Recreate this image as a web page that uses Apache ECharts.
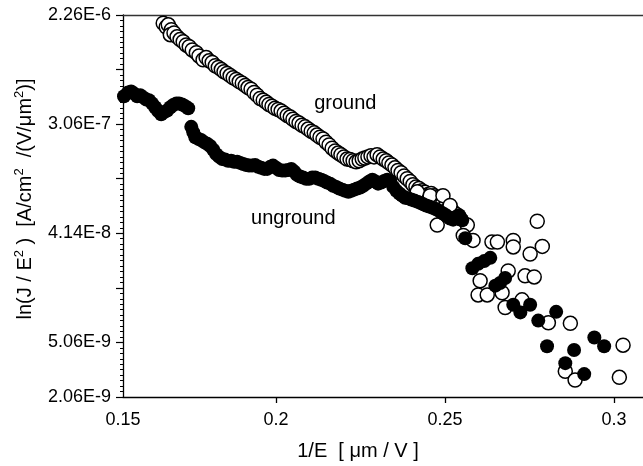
<!DOCTYPE html>
<html>
<head>
<meta charset="utf-8">
<script src="https://cdn.jsdelivr.net/npm/echarts@6/dist/echarts.min.js"></script>
<style>
html,body{margin:0;padding:0;background:#fff;}
#c{width:643px;height:466px;}
</style>
</head>
<body>
<div id="c"></div>
<script>
// ---- data (x = 1/E [um/V], y = ln(J/E^2)) ----
const groundChain = [[0.1666,-13.15],[0.1675,-13.22],[0.1681,-13.18],[0.1690,-13.27],[0.1687,-13.36],[0.1698,-13.33],[0.1707,-13.40],[0.1716,-13.45],[0.1725,-13.49],[0.1734,-13.55],[0.1743,-13.58],[0.1752,-13.64],[0.1764,-13.69],[0.1772,-13.75],[0.1784,-13.82],[0.1793,-13.78],[0.1802,-13.84],[0.1811,-13.87],[0.1820,-13.93],[0.1829,-13.96],[0.1838,-14.00],[0.1846,-14.04],[0.1855,-14.07],[0.1864,-14.11],[0.1873,-14.15],[0.1882,-14.18],[0.1891,-14.22],[0.1900,-14.25],[0.1909,-14.29],[0.1917,-14.33],[0.1926,-14.36],[0.1935,-14.42],[0.1944,-14.47],[0.1953,-14.53],[0.1962,-14.56],[0.1971,-14.60],[0.1979,-14.64],[0.1988,-14.67],[0.1997,-14.71],[0.2006,-14.73],[0.2015,-14.76],[0.2024,-14.80],[0.2033,-14.84],[0.2042,-14.87],[0.2050,-14.91],[0.2059,-14.95],[0.2068,-14.98],[0.2077,-15.02],[0.2086,-15.05],[0.2095,-15.09],[0.2104,-15.13],[0.2113,-15.16],[0.2121,-15.20],[0.2130,-15.24],[0.2139,-15.27],[0.2148,-15.33],[0.2157,-15.38],[0.2166,-15.44],[0.2175,-15.49],[0.2184,-15.53],[0.2192,-15.56],[0.2201,-15.60],[0.2210,-15.64],[0.2219,-15.65],[0.2228,-15.67],[0.2237,-15.69],[0.2246,-15.67],[0.2255,-15.64],[0.2263,-15.62],[0.2272,-15.60],[0.2281,-15.58],[0.2290,-15.60],[0.2299,-15.56],[0.2308,-15.60],[0.2317,-15.64],[0.2326,-15.67],[0.2334,-15.71],[0.2343,-15.75],[0.2352,-15.80],[0.2361,-15.85],[0.2370,-15.89],[0.2379,-15.95],[0.2388,-16.00],[0.2397,-16.05],[0.2405,-16.11],[0.2414,-16.15],[0.2423,-16.18],[0.2432,-16.22],[0.2441,-16.25],[0.2450,-16.29],[0.2459,-16.27],[0.2468,-16.31],[0.2476,-16.35],[0.2485,-16.38],[0.2494,-16.42],[0.2503,-16.47],[0.2512,-16.53],[0.2521,-16.58],[0.2533,-16.65],[0.2545,-16.73]];
const groundScatter = [[0.2418,-16.24],[0.2456,-16.31],[0.2494,-16.31],[0.2515,-16.49],[0.2477,-16.85],[0.2566,-16.85],[0.2554,-17.04],[0.2583,-17.13],[0.2639,-17.16],[0.2655,-17.16],[0.2702,-17.13],[0.2702,-17.25],[0.2752,-17.38],[0.2788,-17.24],[0.2773,-16.78],[0.2687,-17.69],[0.2604,-17.87],[0.2598,-18.13],[0.2625,-18.13],[0.2669,-18.09],[0.2678,-18.36],[0.2728,-18.22],[0.2737,-17.78],[0.2764,-17.80],[0.2806,-18.64],[0.2871,-18.65],[0.2856,-19.53],[0.2885,-19.69],[0.3027,-19.05],[0.3016,-19.64]];
const ungroundChain = [[0.1550,-14.49],[0.1562,-14.42],[0.1571,-14.40],[0.1580,-14.44],[0.1589,-14.49],[0.1598,-14.47],[0.1607,-14.51],[0.1616,-14.55],[0.1624,-14.56],[0.1633,-14.62],[0.1642,-14.69],[0.1651,-14.76],[0.1660,-14.82],[0.1669,-14.78],[0.1678,-14.75],[0.1687,-14.69],[0.1696,-14.65],[0.1705,-14.62],[0.1713,-14.62],[0.1722,-14.64],[0.1731,-14.67],[0.1740,-14.71],[0.1749,-15.05],[0.1755,-15.15],[0.1761,-15.24],[0.1770,-15.27],[0.1778,-15.29],[0.1787,-15.33],[0.1796,-15.36],[0.1805,-15.40],[0.1814,-15.47],[0.1823,-15.55],[0.1832,-15.60],[0.1841,-15.64],[0.1849,-15.65],[0.1858,-15.67],[0.1867,-15.67],[0.1876,-15.69],[0.1885,-15.69],[0.1894,-15.71],[0.1903,-15.73],[0.1912,-15.75],[0.1920,-15.76],[0.1929,-15.76],[0.1938,-15.75],[0.1947,-15.78],[0.1956,-15.80],[0.1965,-15.82],[0.1974,-15.82],[0.1983,-15.78],[0.1991,-15.76],[0.2000,-15.80],[0.2009,-15.84],[0.2018,-15.85],[0.2027,-15.85],[0.2036,-15.84],[0.2045,-15.82],[0.2054,-15.87],[0.2062,-15.93],[0.2071,-15.96],[0.2080,-15.98],[0.2089,-16.00],[0.2098,-16.00],[0.2107,-15.98],[0.2116,-15.98],[0.2125,-16.00],[0.2134,-16.02],[0.2142,-16.04],[0.2151,-16.07],[0.2160,-16.09],[0.2169,-16.13],[0.2178,-16.15],[0.2187,-16.18],[0.2196,-16.20],[0.2205,-16.22],[0.2214,-16.24],[0.2222,-16.22],[0.2231,-16.20],[0.2240,-16.18],[0.2249,-16.16],[0.2258,-16.13],[0.2267,-16.09],[0.2276,-16.05],[0.2285,-16.02],[0.2294,-16.05],[0.2302,-16.09],[0.2311,-16.07],[0.2320,-16.04],[0.2329,-16.02],[0.2338,-16.05],[0.2347,-16.15],[0.2356,-16.22],[0.2365,-16.27],[0.2373,-16.31],[0.2382,-16.35],[0.2391,-16.36],[0.2400,-16.38],[0.2409,-16.40],[0.2418,-16.42],[0.2427,-16.44],[0.2436,-16.47],[0.2444,-16.49],[0.2453,-16.51],[0.2462,-16.53],[0.2471,-16.55],[0.2480,-16.58],[0.2489,-16.62],[0.2498,-16.65],[0.2507,-16.69],[0.2515,-16.73],[0.2524,-16.75],[0.2533,-16.71],[0.2542,-16.67],[0.2551,-16.76]];
const ungroundScatter = [[0.2560,-17.09],[0.2581,-17.64],[0.2598,-17.56],[0.2616,-17.51],[0.2634,-17.45],[0.2649,-17.96],[0.2663,-17.91],[0.2678,-17.82],[0.2702,-18.31],[0.2723,-18.45],[0.2752,-18.31],[0.2776,-18.60],[0.2829,-18.44],[0.2802,-19.07],[0.2882,-19.14],[0.2856,-19.38],[0.2912,-19.58],[0.2942,-18.91],[0.2971,-19.07]];

const xLabelValues = [0.1547, 0.2, 0.25, 0.3];
const xLabelTexts = ['0.15', '0.2', '0.25', '0.3'];
const xTickValues = [0.2, 0.25, 0.3];
const yLabelValues = [-13, -15, -17, -19, -20];
const yLabelTexts = ['2.26E-6', '3.06E-7', '4.14E-8', '5.06E-9', '2.06E-9'];
const annotations = [
  {text: 'ground', x: 0.2205, y: -14.62},
  {text: 'unground', x: 0.2051, y: -16.73}
];

const FONT = '"Liberation Sans", Arial, sans-serif';
const chart = echarts.init(document.getElementById('c'), null, {renderer: 'canvas'});
chart.setOption({
  animation: false,
  backgroundColor: '#fff',
  grid: {left: 123, right: 0, top: 15, bottom: 64},
  xAxis: [{
    type: 'value', min: 0.1547, max: 0.3086,
    axisLine: {show: true, onZero: false, lineStyle: {color: '#000', width: 1.3}},
    axisTick: {show: true, customValues: xTickValues, length: 6, lineStyle: {color: '#000', width: 1.3}},
    axisLabel: {
      customValues: xLabelValues, margin: 14, color: '#000', fontSize: 18, fontFamily: FONT,
      formatter: v => { const i = xLabelValues.findIndex(a => Math.abs(a - v) < 1e-6); return i >= 0 ? xLabelTexts[i] : ''; }
    },
    splitLine: {show: false},
    name: '1/E  [ μm / V ]', nameLocation: 'middle', nameGap: 44,
    nameTextStyle: {color: '#000', fontSize: 20, fontFamily: FONT, padding: [0, 50, 0, 0]}
  }, {
    type: 'value', position: 'top', min: 0.1547, max: 0.3086,
    axisLine: {show: true, onZero: false, lineStyle: {color: '#333', width: 1.3}},
    axisTick: {show: false}, axisLabel: {show: false}, splitLine: {show: false}
  }],
  yAxis: {
    type: 'value', min: -20, max: -13, interval: 1,
    axisLine: {show: true, onZero: false, lineStyle: {color: '#000', width: 1.3}},
    axisTick: {show: true, length: 7, lineStyle: {color: '#000', width: 1.2}},
    minorTick: {show: true, splitNumber: 10, length: 3, lineStyle: {color: '#000', width: 1}},
    axisLabel: {
      margin: 12, color: '#000', fontSize: 18, fontFamily: FONT,
      formatter: v => { const i = yLabelValues.findIndex(a => Math.abs(a - v) < 1e-6); return i >= 0 ? yLabelTexts[i] : ''; }
    },
    splitLine: {show: false},
    name: '{n|ln(J / E}{s|2}{n| )  [A/cm}{s|2}{n|  /(V/μm}{s|2}{n|)]}',
    nameLocation: 'middle', nameRotate: 90, nameGap: 88,
    nameTextStyle: {
      color: '#000', fontFamily: FONT, padding: [0, 0, 0, 14],
      rich: {
        n: {fontSize: 20, lineHeight: 22, verticalAlign: 'bottom', fontFamily: FONT, color: '#000'},
        s: {fontSize: 13, lineHeight: 22, verticalAlign: 'top', fontFamily: FONT, color: '#000'}
      }
    }
  },
  series: [
    {type: 'scatter', name: 'ground', data: groundChain.concat(groundScatter), symbol: 'circle', symbolSize: 14,
     itemStyle: {color: '#fff', borderColor: '#000', borderWidth: 1.5, opacity: 1}, z: 2},
    {type: 'scatter', name: 'unground', data: ungroundChain.concat(ungroundScatter), symbol: 'circle', symbolSize: 14,
     itemStyle: {color: '#000', borderColor: '#000', borderWidth: 0, opacity: 1}, z: 3}
  ]
});

chart.setOption({
  graphic: annotations.map(a => {
    const p = chart.convertToPixel({xAxisIndex: 0, yAxisIndex: 0}, [a.x, a.y]);
    return {type: 'text', x: p[0], y: p[1], z: 10,
      style: {text: a.text, fill: '#000', font: '20px ' + FONT, textAlign: 'center', textVerticalAlign: 'middle'}};
  })
});
</script>
</body>
</html>
